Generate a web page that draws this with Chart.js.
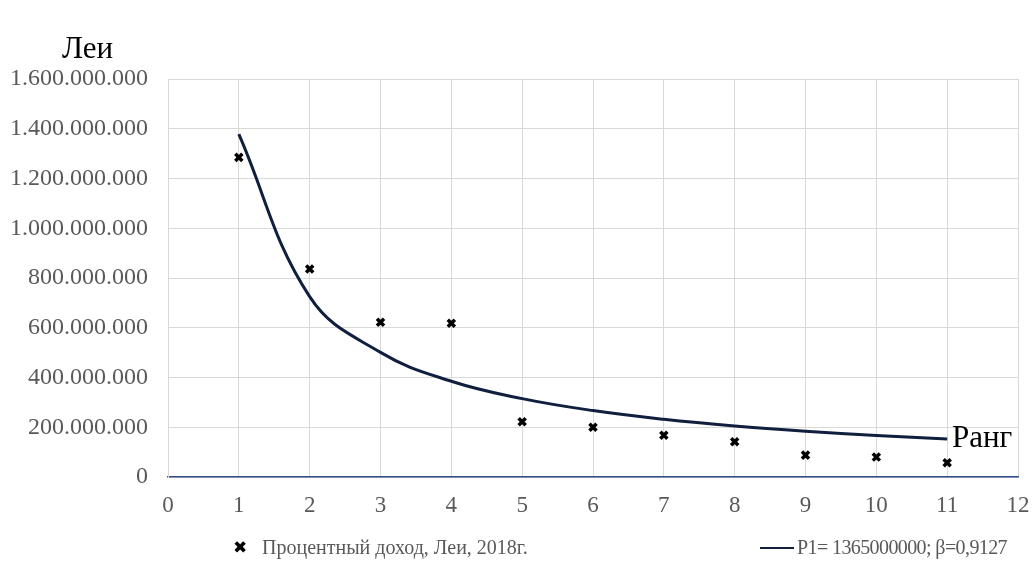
<!DOCTYPE html>
<html lang="ru">
<head>
<meta charset="utf-8">
<title>Процентный доход по рангу</title>
<script src="https://cdn.jsdelivr.net/npm/chart.js@4.4.1/dist/chart.umd.min.js"></script>
<style>
  html, body { margin: 0; padding: 0; background: #fff; }
  #wrap { position: relative; width: 1033px; height: 581px; font-family: "Liberation Serif", "Times New Roman", serif; }
  #chart { position: absolute; left: 0; top: 0; }
  .lbl { position: absolute; color: #000; white-space: nowrap; line-height: 1; }
  #y-title { left: 62px; top: 32px; font-size: 31px; }
  #x-title { left: 952px; top: 421px; font-size: 31px; }
  #legend { position: absolute; top: 536px; left: 0; width: 1033px; height: 24px; font-size: 20px; color: #595959; }
  .lg-mark { position: absolute; left: 233px; top: 1px; font-size: 17px; color: #000; font-family: "DejaVu Sans", sans-serif; }
  .lg-line { position: absolute; left: 760px; top: 11px; width: 34px; border-top: 2.5px solid #0f1f3d; }
  .lg-text1 { position: absolute; left: 262px; top: 0; }
  .lg-text2 { position: absolute; left: 797px; top: 0; letter-spacing: -0.6px; }
</style>
</head>
<body>
<div id="wrap">
  <canvas id="chart" width="1033" height="581"></canvas>
  <div class="lbl" id="y-title">Леи</div>
  <div class="lbl" id="x-title">Ранг</div>
  <div id="legend">
    <span class="lg-mark">✖</span>
    <span class="lg-text1">Процентный доход, Леи, 2018г.</span>
    <span class="lg-line"></span>
    <span class="lg-text2">P1= 1365000000; β=0,9127</span>
  </div>
</div>
<script>
/* ══════════════════════════════════════════════════════════════════════════════
   DATA
══════════════════════════════════════════════════════════════════════════════ */
const ranks = [1, 2, 3, 4, 5, 6, 7, 8, 9, 10, 11];

// observed interest income, lei (markers)
const incomeValues = [
  1285000000, 836000000, 622000000, 618000000, 222000000, 200000000,
  168000000, 142000000, 88000000, 80000000, 57000000,
];

// fitted curve (P1 = 1365000000, β = 0,9127)
const fitValues = [
  1378000000, 725000000, 501000000, 385000000, 315000000, 267000000,
  232000000, 205000000, 184000000, 167000000, 153000000,
];

const xTicks = [0, 1, 2, 3, 4, 5, 6, 7, 8, 9, 10, 11, 12];
const yTicks = [0, 200000000, 400000000, 600000000, 800000000, 1000000000,
  1200000000, 1400000000, 1600000000];

const incomeLabel = "Процентный доход, Леи, 2018г.";
const fitLabel = "P1= 1365000000;  β=0,9127";

/* ══════════════════════════════════════════════════════════════════════════════
   HELPERS
══════════════════════════════════════════════════════════════════════════════ */
// 1600000000 -> "1.600.000.000"
function dotThousands(v) {
  return String(Math.round(v)).replace(/\B(?=(\d{3})+(?!\d))/g, ".");
}

const toPoints = (xs, ys) => xs.map((x, i) => ({ x, y: ys[i] }));

/* ══════════════════════════════════════════════════════════════════════════════
   CHART
══════════════════════════════════════════════════════════════════════════════ */
const serif = "'Liberation Serif', 'Times New Roman', serif";
const gridCol = "#d9d9d9";
const tickCol = "#595959";

new Chart(document.getElementById("chart"), {
  type: "scatter",
  data: {
    datasets: [
      {
        label: fitLabel,
        data: toPoints(ranks, fitValues),
        showLine: true,
        borderColor: "#0f1f3d",
        borderWidth: 3,
        tension: 0.4,
        pointRadius: 0,
        pointHoverRadius: 0,
        order: 2,
      },
      {
        label: incomeLabel,
        data: toPoints(ranks, incomeValues),
        showLine: false,
        pointStyle: "crossRot",
        pointRadius: 5,
        borderColor: "#000",
        backgroundColor: "#000",
        pointBorderWidth: 3.5,
        order: 1,
      },
    ],
  },
  options: {
    responsive: false,
    animation: false,
    layout: { padding: { left: 0, right: 15, top: 79, bottom: 0 } },
    plugins: {
      legend: { display: false },
      tooltip: { enabled: false },
    },
    scales: {
      x: {
        type: "linear",
        min: 0,
        max: 12,
        afterBuildTicks: (axis) => { axis.ticks = xTicks.map((v) => ({ value: v })); },
        afterFit: (axis) => {
          axis.height = 104;
          // keep the plot edge fixed, labels may overhang
          axis.paddingLeft = 0;
          axis.paddingRight = 0;
        },
        ticks: { color: tickCol, font: { family: serif, size: 23 }, padding: 15, maxRotation: 0 },
        grid: { color: gridCol, lineWidth: 1, drawTicks: false },
        border: { color: "#2f4d8a", width: 1.5 },
      },
      y: {
        type: "linear",
        min: 0,
        max: 1600000000,
        afterBuildTicks: (axis) => { axis.ticks = yTicks.map((v) => ({ value: v })); },
        afterFit: (axis) => {
          axis.width = 168;
          axis.paddingTop = 0;
          axis.paddingBottom = 0;
        },
        ticks: {
          color: tickCol,
          font: { family: serif, size: 24 },
          padding: 20,
          callback: (v) => dotThousands(v),
        },
        grid: { color: gridCol, lineWidth: 1, drawTicks: false },
        border: { color: gridCol, width: 1 },
      },
    },
  },
});
</script>
</body>
</html>
